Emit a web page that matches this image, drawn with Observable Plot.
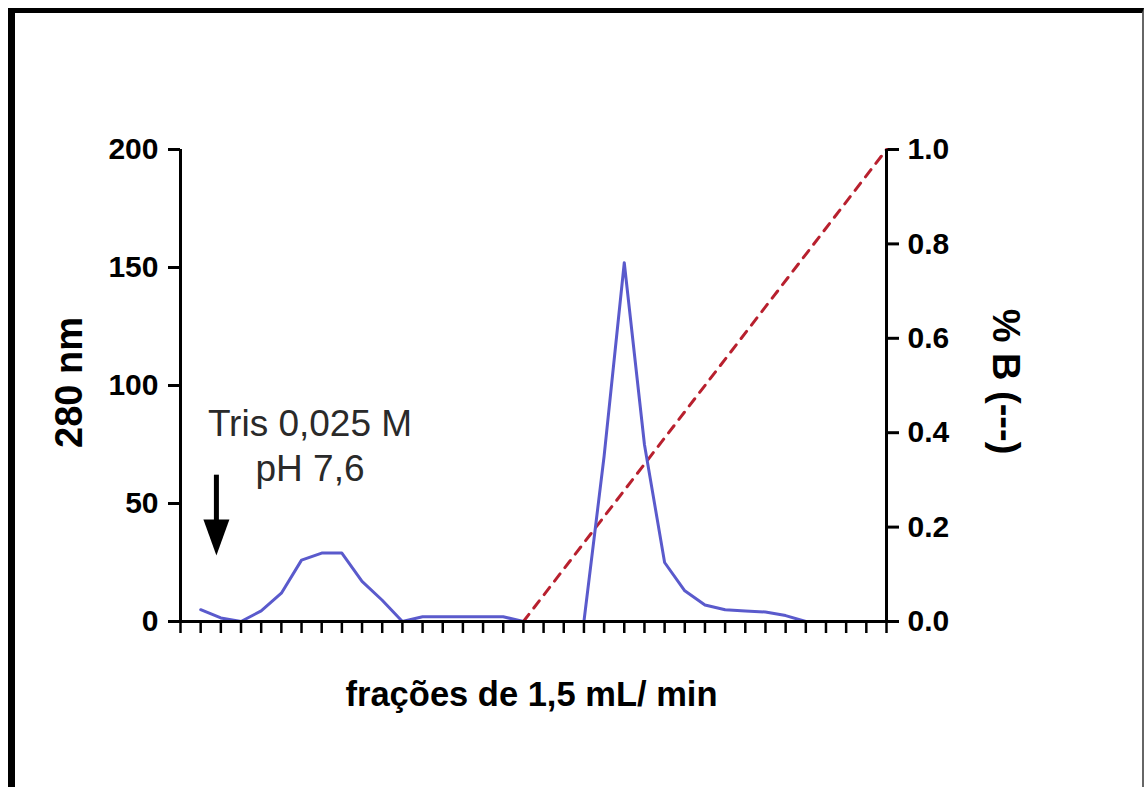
<!DOCTYPE html>
<html>
<head>
<meta charset="utf-8">
<script src="https://cdn.jsdelivr.net/npm/d3@7"></script>
<script src="https://cdn.jsdelivr.net/npm/@observablehq/plot@0.6"></script>
<style>
  html, body { margin: 0; padding: 0; background: #fff; overflow: hidden; }
  #wrap { position: relative; width: 1145px; height: 787px; }
  #frame { position: absolute; left: 8px; top: 8px; width: 1127px; height: 820px;
           border-left: 7px solid #000; border-top: 5px solid #000; border-right: 2px solid #666; }
  #chart { position: absolute; left: 0; top: 0; }
</style>
</head>
<body>
<div id="wrap"><div id="frame"></div><div id="chart"></div></div>
<script>
// Absorbance at 280 nm per fraction
const fractions = [1,2,3,4,5,6,7,8,9,10,11,12,13,14,15,16,17,18,19,20,21,22,23,24,25,26,27,28,29,30,31,32,33];
const absorbance = [5,1.5,0,4.5,12,26,29,29,17,9,0,2,2,2,2,2,0,0,0,0,70,152,75,25,13,7,5,4.5,4,2.5,0,0,0];

// % B gradient (dashed)
const gradientFraction = [17, 35];
const gradientB = [0, 1];

// tick values
const xTicks = d3.range(0, 36);
const leftTicks = [0, 50, 100, 150, 200];
const rightTicks = [0, 0.2, 0.4, 0.6, 0.8, 1.0];

// annotation
const noteLines = ["Tris 0,025 M", "pH 7,6"];
const noteX = 6.42;
const noteY = [83.5, 64.5];
const arrowX = 1.78;
const arrowTop = 62;
const arrowShaftEnd = 40;
const arrowTip = 28;

const BMAX = 200; // right axis 1.0 corresponds to left axis 200
const absData = fractions.map((f, i) => ({f, v: absorbance[i]}));
const gradData = gradientFraction.map((f, i) => ({f, b: gradientB[i]}));

const headSymbol = {
  draw(context) {
    context.moveTo(0, 0);
    context.lineTo(-13, -36);
    context.lineTo(13, -36);
    context.closePath();
  }
};

const font = "'Liberation Sans', Arial, sans-serif";

const chart = Plot.plot({
  width: 1145,
  height: 787,
  marginLeft: 180,
  marginRight: 259,
  marginTop: 149,
  marginBottom: 166,
  x: {domain: [0, 35], axis: null},
  y: {domain: [0, 200], axis: null},
  style: {fontFamily: font, background: "transparent", color: "#000"},
  marks: [
    Plot.axisX({ticks: xTicks, tickSize: 12, strokeWidth: 2.5, tickFormat: () => "", label: null}),
    Plot.axisY({anchor: "left", ticks: leftTicks, tickSize: 12, tickPadding: 10, strokeWidth: 3,
                fontSize: 30, fontWeight: "bold", label: null}),
    Plot.axisY({anchor: "right", ticks: rightTicks.map(d => d * BMAX), tickSize: 12, tickPadding: 9, strokeWidth: 3,
                tickFormat: d => (d / BMAX).toFixed(1), fontSize: 30, fontWeight: "bold", label: null}),
    Plot.line(gradData, {x: "f", y: d => d.b * BMAX, stroke: "#b8202e", strokeWidth: 3, strokeDasharray: "9,8"}),
    Plot.line(absData, {x: "f", y: "v", stroke: "#5a5acc", strokeWidth: 3}),
    Plot.ruleY([0], {stroke: "#000", strokeWidth: 3}),
    Plot.ruleX([0, 35], {stroke: "#000", strokeWidth: 3}),
    Plot.text(noteLines, {x: () => noteX, y: (d, i) => noteY[i], text: d => d, fontSize: 37, fill: "#2a2a2a"}),
    Plot.ruleX([arrowX], {y1: arrowTop, y2: arrowShaftEnd, stroke: "#000", strokeWidth: 5}),
    Plot.dot([arrowX], {x: d => d, y: () => arrowTip, symbol: headSymbol, fill: "#000", stroke: "none", r: 10}),
    Plot.text(["280 nm"], {frameAnchor: "left", textAnchor: "middle", dx: -111, dy: -3, rotate: -90, fontSize: 38, fontWeight: "bold", fill: "#000"}),
    Plot.text(["% B (---)"], {frameAnchor: "right", textAnchor: "middle", dx: 119, dy: -4, rotate: 90, fontSize: 38, fontWeight: "bold", fill: "#000"}),
    Plot.text(["frações de 1,5 mL/ min"], {frameAnchor: "bottom", dx: -2, dy: 84, fontSize: 34.5, fontWeight: "bold", fill: "#000"})
  ]
});
document.getElementById("chart").appendChild(chart);
</script>
</body>
</html>
